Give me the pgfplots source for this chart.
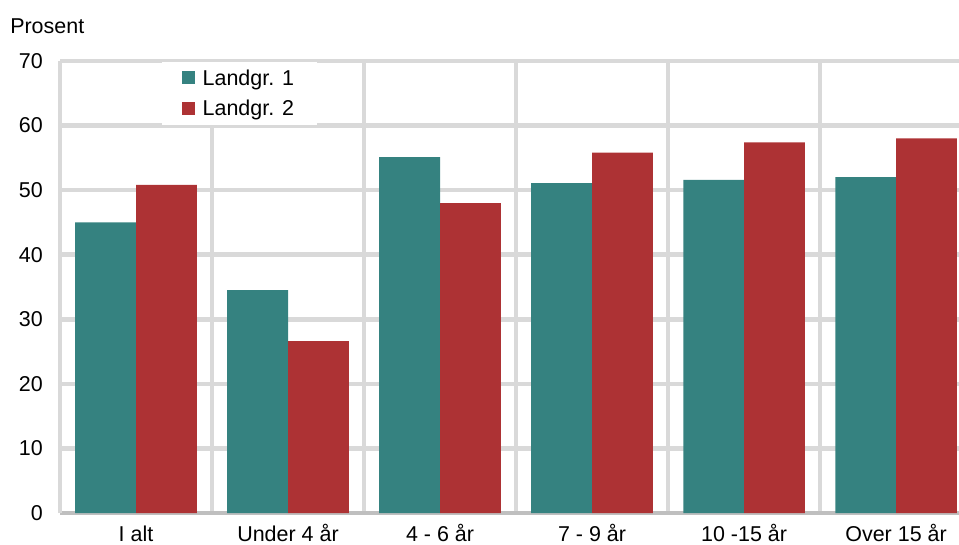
\documentclass[border=0pt]{standalone}
\usepackage{fontspec}
\setmainfont{Liberation Sans}
\usepackage{pgfplots}
\pgfplotsset{compat=1.18}
\definecolor{teal1}{RGB}{53,130,128}
\definecolor{red2}{RGB}{173,50,52}
\definecolor{gridg}{RGB}{217,217,217}
\definecolor{axisg}{RGB}{191,191,191}
\begin{document}
\begin{tikzpicture}
\begin{axis}[
  name=ax,
  at={(0pt,0pt)}, anchor=south west,
  scale only axis,
  width=674.25pt, height=339pt,
  font=\fontsize{16.1}{19.3}\selectfont,
  /pgf/number format/assume math mode=true,
  ybar, bar width=0.4, 
  xmin=-0.5, xmax=5.414,
  ymin=0, ymax=70,
  ytick={0,10,...,70},
  xtick={0,1,2,3,4,5},
  xticklabels={I alt, Under 4 år, 4 - 6 år, 7 - 9 år, 10 -15 år, Over 15 år},
  minor xtick={0.5,1.5,2.5,3.5,4.5},
  ymajorgrids, xminorgrids,
  major grid style={draw=gridg, line width=3.4pt},
  minor grid style={draw=gridg, line width=3.4pt},
  major tick length=0pt, minor tick length=0pt,
  tick style={draw=none},
  axis x line*=bottom, axis y line*=left,
  x axis line style={draw=axisg, line width=3.4pt, -},
  y axis line style={draw=gridg, line width=3.4pt, -},
  yticklabel style={anchor=east, inner sep=0pt, xshift=-12.75pt},
  xticklabel style={anchor=base, inner sep=0pt, yshift=-21pt},
  clip=false,
  legend style={at={(0.1135,0.998)}, anchor=north west, fill=white, draw=none,
    inner xsep=15pt, inner ysep=3.5pt, row sep=6pt,
    /tikz/every odd column/.append style={column sep=3.5pt},
    font=\fontsize{16.1}{19.3}\selectfont},
  legend cell align=left,
  legend image code/.code={\fill[#1] (0pt,-4.4pt) rectangle (9.75pt,5.35pt);},
]
\addplot[fill=teal1, draw=none, bar shift=-0.2] coordinates {(0,45.0) (1,34.5) (2,55.1) (3,51.1) (4,51.6) (5,52.0)};
\addlegendentry{Landgr. 1}
\addplot[fill=red2, draw=none, bar shift=0.2] coordinates {(0,50.8) (1,26.6) (2,48.0) (3,55.8) (4,57.4) (5,58.0)};
\addlegendentry{Landgr. 2}
\node[anchor=base west, inner sep=0pt] at (rel axis cs:0,1) [xshift=-37.5pt, yshift=21pt] {Prosent};
\end{axis}
\pgfresetboundingbox
\path[use as bounding box] (-45pt,-23.25pt) rectangle (674.25pt,384.75pt);
\end{tikzpicture}
\end{document}
